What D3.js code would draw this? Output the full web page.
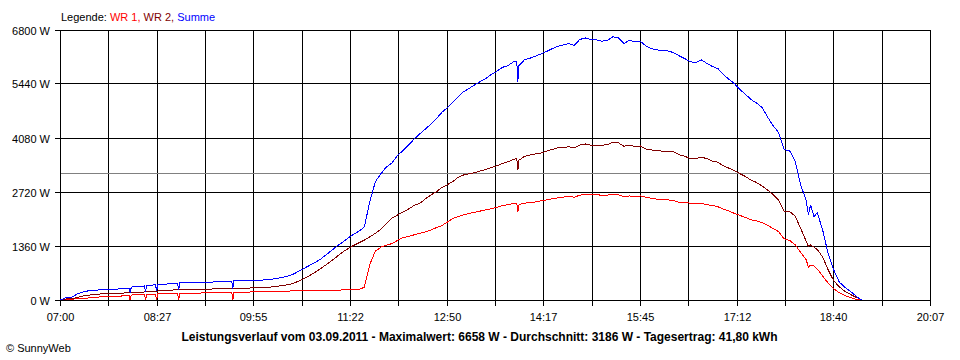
<!DOCTYPE html>
<html><head><meta charset="utf-8">
<script src="https://cdn.jsdelivr.net/npm/d3@7"></script>
<style>
body{margin:0;background:#fff}
svg{display:block}
text{font-family:"Liberation Sans",Arial,sans-serif;fill:#000}
</style>
</head><body><svg id="c" width="960" height="360"></svg>
<script>
// ---- data ----
const times = [
 "07:00","07:05","07:10","07:15","07:20","07:25","07:30","07:35","07:40","07:45","07:50","07:55",
 "08:00","08:02","08:03","08:04","08:05","08:10","08:15","08:16","08:17","08:18","08:20","08:25","08:26","08:27","08:28","08:30","08:35","08:40","08:45","08:46","08:47","08:48","08:50","08:55",
 "09:00","09:05","09:10","09:15","09:20","09:25","09:30","09:35","09:36","09:37","09:40","09:45","09:50","09:55",
 "10:00","10:05","10:10","10:15","10:20","10:25","10:30","10:35","10:40","10:45","10:50","10:55",
 "11:00","11:05","11:10","11:15","11:20","11:25","11:30","11:35","11:40","11:45","11:50","11:55",
 "12:00","12:05","12:10","12:15","12:20","12:25","12:30","12:35","12:40","12:45","12:50","12:55",
 "13:00","13:05","13:10","13:15","13:20","13:25","13:30","13:35","13:40","13:45","13:50","13:53","13:54","13:55",
 "14:00","14:05","14:10","14:15","14:20","14:25","14:30","14:35","14:40","14:45","14:50","14:55",
 "15:00","15:05","15:10","15:15","15:20","15:25","15:30","15:35","15:40","15:45","15:50","15:55",
 "16:00","16:05","16:10","16:15","16:20","16:25","16:30","16:35","16:40","16:45","16:50","16:55",
 "17:00","17:05","17:10","17:15","17:20","17:25","17:30","17:35","17:40","17:45","17:50","17:55",
 "18:00","18:05","18:10","18:15","18:17","18:19","18:22","18:25","18:30","18:35","18:40","18:45","18:50","18:55",
 "19:00","19:05"
];
const summe = [
 0,60,70,150,200,230,240,255,265,270,275,280,
 290,300,190,310,330,340,350,355,210,360,370,380,385,230,390,395,400,410,420,425,260,430,432,437,
 440,442,445,450,455,460,468,475,290,480,485,488,490,495,
 500,505,515,540,565,595,640,715,790,865,940,1020,
 1130,1240,1350,1450,1555,1650,1730,1840,2480,2980,3180,3350,
 3450,3640,3760,3900,4050,4180,4300,4420,4560,4720,4840,4980,
 5120,5250,5330,5420,5500,5580,5680,5760,5860,5900,6000,6010,5500,5900,
 6050,6090,6140,6200,6260,6330,6390,6420,6460,6410,6560,6600,
 6560,6550,6520,6540,6630,6600,6460,6540,6500,6510,6400,6330,
 6300,6280,6270,6230,6150,6080,6000,5980,6050,5960,5880,5830,
 5680,5560,5450,5300,5180,5050,4960,4850,4610,4390,4220,3790,
 3760,3500,2900,2500,2150,2400,2100,2200,1750,1150,750,450,320,220,
 100,0
];
const wr2 = [
 0,25,30,60,100,120,135,150,165,168,170,172,
 180,185,188,190,194,198,200,202,202,203,205,215,220,222,225,235,240,250,255,258,260,262,262,268,
 270,270,272,275,280,283,286,288,288,290,292,295,300,305,
 312,318,325,340,360,380,410,470,540,610,690,780,
 880,980,1090,1200,1290,1370,1440,1510,1590,1680,1780,1920,
 2060,2140,2220,2290,2380,2430,2540,2640,2720,2830,2900,2980,
 3090,3150,3180,3210,3250,3290,3340,3380,3440,3480,3540,3560,3280,3520,
 3620,3650,3680,3700,3750,3790,3830,3840,3860,3830,3900,3930,
 3900,3890,3900,3910,3970,3960,3870,3900,3870,3880,3800,3780,
 3760,3750,3740,3730,3660,3620,3560,3560,3600,3560,3500,3470,
 3380,3320,3260,3180,3110,3020,2960,2870,2770,2660,2520,2240,
 2230,2110,1800,1480,1350,1390,1330,1270,1080,750,480,330,220,140,
 70,10
];
const wr1 = [
 0,10,20,30,45,50,60,75,84,90,95,100,
 110,115,0,120,126,128,130,135,0,140,145,150,150,0,152,152,155,160,165,166,0,168,168,170,
 172,175,178,180,182,185,188,190,0,192,194,196,200,205,
 210,212,215,218,220,225,228,232,235,238,240,242,
 245,248,250,252,255,258,262,320,900,1230,1330,1380,
 1420,1500,1570,1600,1640,1680,1710,1760,1820,1870,1960,2050,
 2100,2150,2180,2210,2240,2270,2300,2330,2380,2400,2430,2440,2230,2400,
 2440,2450,2470,2500,2520,2550,2570,2590,2610,2590,2640,2660,
 2660,2650,2640,2640,2670,2650,2600,2620,2610,2620,2590,2560,
 2540,2530,2520,2500,2460,2450,2440,2430,2440,2400,2380,2350,
 2290,2240,2180,2130,2080,2020,1990,1950,1880,1800,1720,1540,
 1500,1390,1200,1010,830,880,860,780,600,420,280,180,110,60,
 20,0
];
const yTicks = [0, 1360, 2720, 4080, 5440, 6800];
const xTickLabels = ["07:00","08:27","09:55","11:22","12:50","14:17","15:45","17:12","18:40","20:07"];
const average = 3186;
const legendParts = [["Legende: ","#000000"],["WR 1, ","#ff0000"],["WR 2, ","#800000"],["Summe","#0000ff"]];
const titleText = "Leistungsverlauf vom 03.09.2011 - Maximalwert: 6658 W - Durchschnitt: 3186 W - Tagesertrag: 41,80 kWh";
const copyright = "\u00A9 SunnyWeb";

// ---- chart ----
const svg = d3.select("#c");
const parse = d3.timeParse("%H:%M");
const tStart = parse("07:00");
const tEnd = new Date(tStart.getTime() + 787.5 * 60000);
const x = d3.scaleTime().domain([tStart, tEnd]).range([60.5, 930.5]);
const y = d3.scaleLinear().domain([0, 6800]).range([300, 30]);
const snap = v => Math.floor(v) + 0.5;
const gridTimes = d3.range(19).map(i => new Date(tStart.getTime() + i * 43.75 * 60000));

const grid = svg.append("g").attr("shape-rendering", "crispEdges");
// horizontal grid lines
grid.selectAll("line.h").data(yTicks).join("line")
  .attr("x1", 55).attr("x2", 931)
  .attr("y1", d => snap(y(d))).attr("y2", d => snap(y(d)))
  .attr("stroke", "#000").attr("stroke-width", 1);
// vertical grid lines (and ticks below axis)
grid.selectAll("line.v").data(gridTimes).join("line")
  .attr("x1", d => snap(x(d))).attr("x2", d => snap(x(d)))
  .attr("y1", 30).attr("y2", 306)
  .attr("stroke", "#000").attr("stroke-width", 1);
// average line
grid.append("line")
  .attr("x1", 61).attr("x2", 930)
  .attr("y1", snap(y(average))).attr("y2", snap(y(average)))
  .attr("stroke", "#808080").attr("stroke-width", 1);

// y labels
svg.append("g").selectAll("text").data(yTicks).join("text")
  .attr("x", 50).attr("y", d => snap(y(d)) + 4)
  .attr("text-anchor", "end").attr("font-size", "11px")
  .text(d => d + " W");

// x labels
svg.append("g").selectAll("text").data(xTickLabels).join("text")
  .attr("x", (d, i) => snap(x(gridTimes[i * 2])))
  .attr("y", 321)
  .attr("text-anchor", "middle").attr("font-size", "11px")
  .text(d => d);

// series
const pts = arr => arr.map((v, i) => [parse(times[i]), v]);
const line = d3.line().x(d => x(d[0])).y(d => y(d[1]));
const series = [[wr1, "#ff0000"], [wr2, "#800000"], [summe, "#0000ff"]];
svg.append("g").selectAll("path").data(series).join("path")
  .attr("d", d => line(pts(d[0])))
  .attr("fill", "none").attr("stroke", d => d[1]).attr("stroke-width", 1)
  .attr("shape-rendering", "crispEdges");

// legend
const lg = svg.append("text").attr("x", 61).attr("y", 21).attr("font-size", "11px");
lg.selectAll("tspan").data(legendParts).join("tspan")
  .attr("fill", d => d[1]).style("fill", d => d[1]).attr("xml:space", "preserve")
  .text(d => d[0]);
lg.style("white-space", "pre");

// title
svg.append("text").attr("x", 479.5).attr("y", 341)
  .attr("text-anchor", "middle").attr("font-size", "12px").attr("font-weight", "bold")
  .text(titleText);

// copyright
svg.append("text").attr("x", 6).attr("y", 352).attr("font-size", "11px").text(copyright);
</script>
</body></html>
